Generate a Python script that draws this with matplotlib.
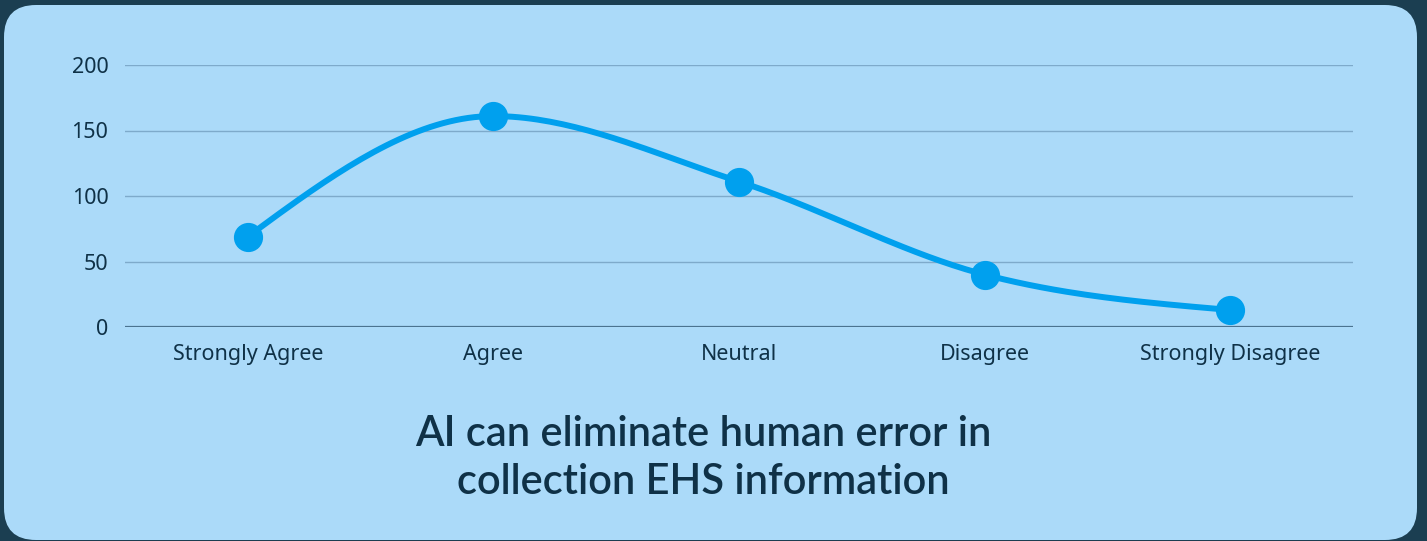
import matplotlib
matplotlib.use("Agg")
import matplotlib.pyplot as plt
import numpy as np
from matplotlib.patches import FancyBboxPatch

# survey answers
categories = ["Strongly Agree", "Agree", "Neutral", "Disagree", "Strongly Disagree"]
counts = [69, 161, 111, 40, 13]
y_ticks = [0, 50, 100, 150, 200]
title = "AI can eliminate human error in\ncollection EHS information"

bg_dark = "#1b3e51"
panel = "#abdaf9"
line_col = "#00a0ee"
text_col = "#0f3147"


def monotone_curve(x, y, n=40):
    # monotone cubic (same slope rules as d3 curveMonotoneX)
    x = np.asarray(x, float)
    y = np.asarray(y, float)
    h = np.diff(x)
    d = np.diff(y) / h
    m = np.zeros(len(x))
    for i in range(1, len(x) - 1):
        p = (d[i - 1] * h[i] + d[i] * h[i - 1]) / (h[i - 1] + h[i])
        m[i] = (np.sign(d[i - 1]) + np.sign(d[i])) * min(abs(d[i - 1]), abs(d[i]), 0.5 * abs(p))
    m[0] = (3 * d[0] - m[1]) / 2
    m[-1] = (3 * d[-1] - m[-2]) / 2
    xs, ys = [], []
    for i in range(len(x) - 1):
        t = np.linspace(0, 1, n)
        h00 = 2 * t**3 - 3 * t**2 + 1
        h10 = t**3 - 2 * t**2 + t
        h01 = -2 * t**3 + 3 * t**2
        h11 = t**3 - t**2
        xs.append(x[i] + t * h[i])
        ys.append(h00 * y[i] + h10 * h[i] * m[i] + h01 * y[i + 1] + h11 * h[i] * m[i + 1])
    return np.concatenate(xs), np.concatenate(ys)


W, H = 1427, 541
fig = plt.figure(figsize=(W / 100, H / 100), dpi=100, facecolor=bg_dark)

# background axes in pixel units for the rounded light panel
bg = fig.add_axes([0, 0, 1, 1], zorder=0)
bg.set_xlim(0, W)
bg.set_ylim(H, 0)
bg.axis("off")
bg.add_patch(FancyBboxPatch((4, 5), 1413, 535,
                            boxstyle="round,pad=0,rounding_size=32",
                            facecolor=panel, edgecolor="none"))

ax = fig.add_axes([125 / W, (H - 327) / H, 1228 / W, 262 / H], zorder=1)
ax.set_facecolor("none")

xpos = np.arange(len(categories))
sx, sy = monotone_curve(xpos, counts)
ax.plot(sx, sy, color=line_col, lw=4.3, solid_capstyle="round", zorder=3, clip_on=False)
ax.plot(xpos, counts, "o", color=line_col, markersize=20, zorder=4, clip_on=False)

ax.set_xlim(-0.5, len(categories) - 0.5)
ax.set_ylim(0, 200)
ax.set_yticks(y_ticks)
ax.set_xticks(xpos)
ax.set_xticklabels(categories)

for v in y_ticks[1:]:
    ax.axhline(v, color="#7eaacb", lw=1, zorder=1)
ax.axhline(0, color="#4b7390", lw=1.6, zorder=2)

for s in ax.spines.values():
    s.set_visible(False)
ax.tick_params(length=0, labelcolor=text_col, labelsize=15.5)
ax.tick_params(axis="y", pad=12)
ax.tick_params(axis="x", pad=12)
for lab in ax.get_xticklabels() + ax.get_yticklabels():
    lab.set_family("Noto Sans")

fig.text(703 / W, (H - 458) / H, title, ha="center", va="center",
         fontsize=30, color=text_col, family="Lato", fontweight="semibold",
         linespacing=1.3)

fig.savefig("out.png", dpi=100, facecolor=bg_dark)
